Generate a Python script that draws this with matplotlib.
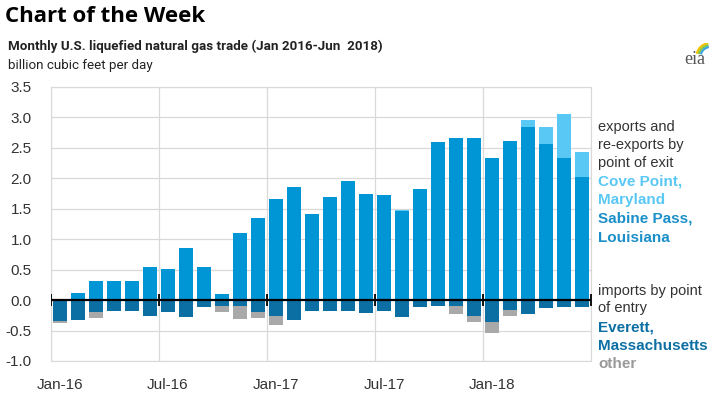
import numpy as np
import matplotlib.pyplot as plt
from matplotlib.patches import Arc

# Monthly LNG trade, Jan 2016 - Jun 2018 (billion cubic feet per day)
months = [
    'Jan-16', 'Feb-16', 'Mar-16', 'Apr-16', 'May-16', 'Jun-16',
    'Jul-16', 'Aug-16', 'Sep-16', 'Oct-16', 'Nov-16', 'Dec-16',
    'Jan-17', 'Feb-17', 'Mar-17', 'Apr-17', 'May-17', 'Jun-17',
    'Jul-17', 'Aug-17', 'Sep-17', 'Oct-17', 'Nov-17', 'Dec-17',
    'Jan-18', 'Feb-18', 'Mar-18', 'Apr-18', 'May-18', 'Jun-18',
]
sabine_pass = [0.00, 0.125, 0.32, 0.32, 0.32, 0.55, 0.51, 0.86, 0.55, 0.10,
               1.10, 1.35, 1.66, 1.855, 1.41, 1.69, 1.95, 1.75, 1.72, 1.46,
               1.83, 2.60, 2.66, 2.66, 2.34, 2.62, 2.84, 2.56, 2.34, 2.02]
cove_point = [0.0] * 19 + [0.02, 0.0, 0.0, 0.0, 0.0, 0.0, 0.0, 0.11, 0.29, 0.72, 0.42]
everett = [0.35, 0.32, 0.19, 0.175, 0.175, 0.26, 0.20, 0.28, 0.115, 0.09,
           0.09, 0.19, 0.26, 0.32, 0.175, 0.18, 0.185, 0.21, 0.185, 0.27,
           0.11, 0.10, 0.10, 0.26, 0.355, 0.17, 0.23, 0.13, 0.11, 0.11]
other = [0.03, 0.0, 0.10, 0.0, 0.0, 0.0, 0.0, 0.0, 0.0, 0.10,
         0.22, 0.10, 0.15, 0.0, 0.0, 0.0, 0.0, 0.0, 0.0, 0.0,
         0.0, 0.0, 0.12, 0.10, 0.19, 0.09, 0.0, 0.0, 0.0, 0.0]
tick_labels = ['Jan-16', 'Jul-16', 'Jan-17', 'Jul-17', 'Jan-18']

C_SABINE = '#0096d6'
C_COVE = '#5ac8f5'
C_EVERETT = '#0b6fa4'
C_OTHER = '#a9a9a9'
GRID = '#d9d9d9'

plt.rcParams['font.family'] = ['Liberation Sans', 'DejaVu Sans']

fig = plt.figure(figsize=(7.26, 3.94), dpi=100)
ax = fig.add_axes([51 / 726, 1 - 361 / 394, 540 / 726, 274 / 394])

x = np.arange(len(months))
sab = np.array(sabine_pass)
cov = np.array(cove_point)
eve = np.array(everett)
oth = np.array(other)
w = 0.78
ax.bar(x, sab, w, color=C_SABINE, zorder=3)
ax.bar(x, cov, w, bottom=sab, color=C_COVE, zorder=3)
ax.bar(x, -eve, w, color=C_EVERETT, zorder=3)
ax.bar(x, -oth, w, bottom=-eve, color=C_OTHER, zorder=3)

ax.set_xlim(-0.5, len(months) - 0.5)
ax.set_ylim(-1.0, 3.5)
yt = np.arange(-1.0, 3.51, 0.5)
ax.set_yticks(yt)
ax.set_yticklabels([f'{v:.1f}' for v in yt])
# gridlines on month boundaries, labels on the month itself
bounds = np.arange(-0.5, len(months), 6)
ax.set_xticks(bounds)
ax.set_xticklabels([''] * len(bounds))
ax.set_xticks(np.arange(0, len(months), 6), minor=True)
ax.set_xticklabels(tick_labels, minor=True)
ax.tick_params(axis='both', which='both', length=0, labelsize=11, colors='#333333')
ax.tick_params(axis='y', pad=14)
ax.tick_params(axis='x', which='minor', pad=12)
ax.grid(True, which='major', color=GRID, lw=0.9, zorder=0)
for s in ax.spines.values():
    s.set_color(GRID)

# zero line with little ticks at the gridlines
ax.axhline(0, color='black', lw=1.6, zorder=4)
ax.plot(bounds, np.zeros(len(bounds)), ls='none', marker='|', ms=8, mew=1.3, color='black', zorder=4)

# titles
fig.text(5 / 726, 1 - 17 / 394, 'Chart of the Week', fontsize=16, fontweight='bold',
         family=['Open Sans', 'DejaVu Sans'], va='center', ha='left')
narrow = ['Roboto', 'Liberation Sans']
fig.text(8 / 726, 1 - 46 / 394, 'Monthly U.S. liquefied natural gas trade (Jan 2016-Jun  2018)',
         fontsize=9.6, fontweight='bold', family=narrow, va='center', ha='left', color='#222222')
fig.text(8 / 726, 1 - 66 / 394, 'billion cubic feet per day', fontsize=9.6, family=narrow,
         va='center', ha='left', color='#222222')

# eia logo
fig.text(695 / 726, 1 - 60 / 394, 'eia', fontsize=13, family=['Liberation Serif'],
         color='#555555', ha='center', va='center')
lax = fig.add_axes([684 / 726, 1 - 56 / 394, 28 / 726, 13 / 394])
lax.set_xlim(0, 2)
lax.set_ylim(0, 1)
lax.axis('off')
for r, c in [(1.0, '#f2c300'), (0.85, '#8cc63f'), (0.7, '#3aa6dd')]:
    lax.add_patch(Arc((1.9, 0.0), 2 * r, 2 * r, theta1=100, theta2=170, color=c, lw=1.6))

# legend text
lx = 598 / 726
items = [
    (127, 'exports and', '#333333', 'normal'),
    (145, 're-exports by', '#333333', 'normal'),
    (163, 'point of exit', '#333333', 'normal'),
    (182, 'Cove Point,', C_COVE, 'bold'),
    (200, 'Maryland', C_COVE, 'bold'),
    (219, 'Sabine Pass,', '#1b8fc8', 'bold'),
    (238, 'Louisiana', '#1b8fc8', 'bold'),
    (291, 'imports by point', '#333333', 'normal'),
    (308, 'of entry', '#333333', 'normal'),
    (327, 'Everett,', C_EVERETT, 'bold'),
    (346, 'Massachusetts', C_EVERETT, 'bold'),
    (364, 'other', '#999999', 'bold'),
]
for yy, txt, col, wt in items:
    fig.text(lx, 1 - yy / 394, txt, fontsize=10.5 if wt == 'normal' else 11,
             color=col, fontweight=wt, va='center', ha='left')

fig.savefig('out.png', dpi=100)
